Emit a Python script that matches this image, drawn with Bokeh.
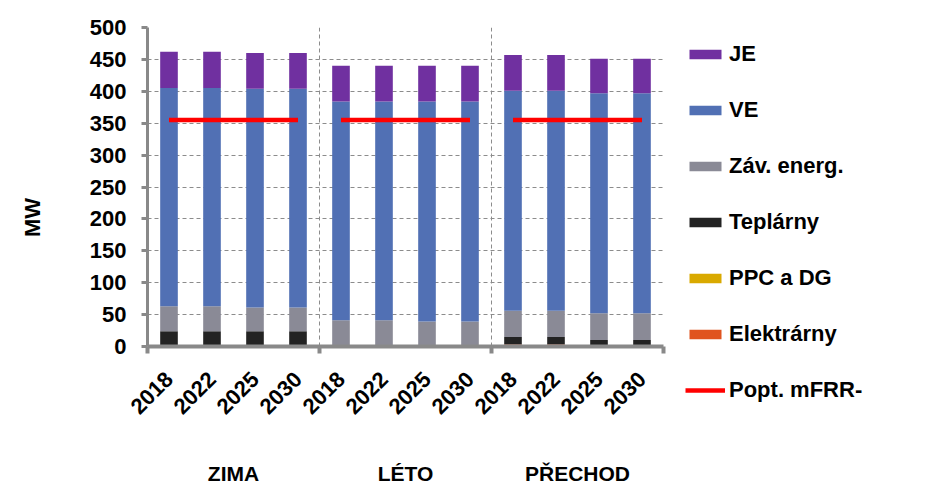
import math
from bokeh.plotting import figure
from bokeh.models import (FixedTicker, LinearAxis, Legend, LegendItem, Range1d,
                          ColumnDataSource)
from bokeh.embed import file_html
from bokeh.resources import INLINE

seasons = ["ZIMA", "LÉTO", "PŘECHOD"]
years = ["2018", "2022", "2025", "2030"]

elektrarny = [0, 0, 0, 0, 0, 0, 0, 0, 3, 3, 0, 0]
ppc_dg = [0, 0, 0, 0, 0, 0, 0, 0, 0, 0, 0, 0]
teplarny = [24, 24, 24, 24, 0, 0, 0, 0, 12, 12, 10, 10]
zav_energ = [39, 39, 37, 37, 41, 41, 39, 39, 41, 41, 42, 42]
ve = [342, 342, 343, 343, 343, 343, 345, 345, 345, 345, 345, 345]
je = [57, 57, 56, 56, 56, 56, 56, 56, 56, 56, 54, 54]
mfrr = [355, 355, 355, 355, 355, 355, 355, 355, 355, 355, 355, 355]

series_names = ["Elektrárny", "PPC a DG", "Teplárny", "Záv. energ.", "VE", "JE"]
colors = ["#E0541F", "#D9A900", "#232323", "#8A8A96", "#5170B4", "#7030A0"]

FONT = "Liberation Sans"
x = [i + 0.5 for i in range(12)]
src = ColumnDataSource(dict(x=x, **{
    "Elektrárny": elektrarny, "PPC a DG": ppc_dg, "Teplárny": teplarny,
    "Záv. energ.": zav_energ, "VE": ve, "JE": je}))

p = figure(frame_width=516, frame_height=319, x_range=Range1d(0, 12), y_range=Range1d(0, 500),
           output_backend="svg", toolbar_location=None,
           min_border_left=147, min_border_right=274, min_border_top=27,
           min_border_bottom=142)
p.outline_line_color = None

bars = p.vbar_stack(series_names, x="x", width=0.41, color=colors, line_color=None,
                    source=src)

# demand lines per season
xs, ys = [], []
for g in range(len(seasons)):
    xs.append(x[g * 4:(g + 1) * 4])
    ys.append(mfrr[g * 4:(g + 1) * 4])
ml = p.multi_line(xs, ys, line_color="#FF0000", line_width=4.5)

# y axis
yt = FixedTicker(ticks=list(range(0, 501, 50)))
p.yaxis.ticker = yt
p.yaxis.axis_line_color = "#898989"
p.yaxis.axis_line_width = 3
p.yaxis.major_tick_line_color = "#898989"
p.yaxis.major_tick_line_width = 3
p.yaxis.major_tick_out = 6
p.yaxis.major_tick_in = 0
p.yaxis.minor_tick_line_color = None
p.yaxis.major_label_text_font = FONT
p.yaxis.major_label_text_font_style = "bold"
p.yaxis.major_label_text_font_size = "22px"
p.yaxis.major_label_text_color = "black"
p.yaxis.major_label_standoff = 15
p.yaxis.axis_label = "MW" + "\u00a0" * 10
p.yaxis.axis_label_text_font = FONT
p.yaxis.axis_label_text_font_style = "bold"
p.yaxis.axis_label_text_font_size = "22px"
p.yaxis.axis_label_text_color = "black"
p.yaxis.axis_label_standoff = 42

# x axis (years)
xa = p.xaxis[0]
xa.ticker = FixedTicker(ticks=x, minor_ticks=[0, 4, 8, 12])
xa.major_label_overrides = {x[i]: years[i % 4] for i in range(12)}
xa.major_label_orientation = math.pi / 4
xa.major_tick_out = 0
xa.major_tick_in = 0
xa.minor_tick_out = 7
xa.minor_tick_in = 0
xa.minor_tick_line_color = "#898989"
xa.minor_tick_line_width = 4
xa.axis_line_color = "#898989"
xa.axis_line_width = 4
xa.major_label_text_font = FONT
xa.major_label_text_font_style = "bold"
xa.major_label_text_font_size = "22px"
xa.major_label_text_color = "black"
xa.major_label_standoff = 22

# season axis
ga = LinearAxis(ticker=FixedTicker(ticks=[2, 6, 10], minor_ticks=[]))
ga.major_label_overrides = {2 + 4 * i: seasons[i] for i in range(3)}
ga.axis_line_color = None
ga.major_tick_line_color = None
ga.minor_tick_line_color = None
ga.major_label_text_font = FONT
ga.major_label_text_font_style = "bold"
ga.major_label_text_font_size = "21px"
ga.major_label_text_color = "black"
ga.major_label_standoff = 32
p.add_layout(ga, "below")

# grids
p.ygrid.ticker = yt
p.ygrid.grid_line_color = "#8C8C8C"
p.ygrid.grid_line_dash = "4 3"
p.ygrid.grid_line_width = 1
p.xgrid.ticker = FixedTicker(ticks=[4, 8, 12])
p.xgrid.grid_line_color = "#8C8C8C"
p.xgrid.grid_line_dash = "4 3"
p.xgrid.grid_line_width = 1

items = [LegendItem(label=series_names[i], renderers=[bars[i]]) for i in range(5, -1, -1)]
items.append(LegendItem(label="Popt. mFRR-", renderers=[ml]))
legend = Legend(items=items, location=(22, -57))
legend.glyph_width = 40
legend.glyph_height = 12
legend.label_height = 25
legend.spacing = 30
legend.label_standoff = 4
legend.padding = 0
legend.margin = 0
legend.border_line_color = None
legend.background_fill_alpha = 0
legend.label_text_font = FONT
legend.label_text_font_style = "bold"
legend.label_text_font_size = "22px"
legend.label_text_color = "black"
p.add_layout(legend, "right")

open("out.html", "w").write(file_html(p, INLINE))
